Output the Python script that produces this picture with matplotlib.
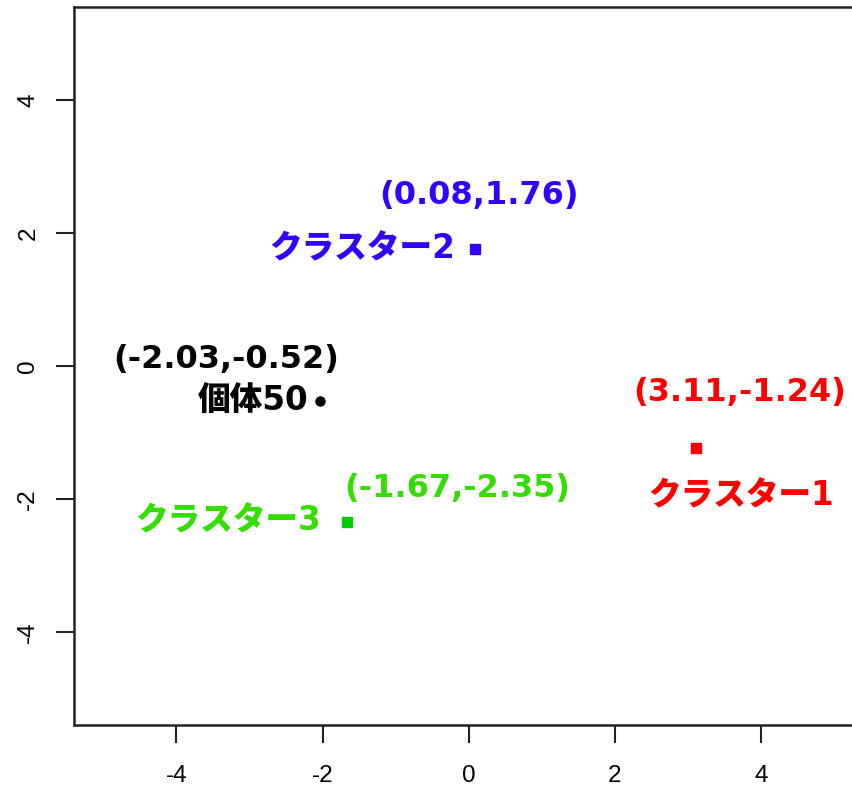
import matplotlib
matplotlib.use("Agg")
import matplotlib.pyplot as plt

# cluster centres and the individual point
names = ["クラスター1", "クラスター2", "クラスター3", "個体50"]
xs = [3.11, 0.08, -1.67, -2.03]
ys = [-1.24, 1.76, -2.35, -0.52]
text_colors = ["#FF0000", "#3300FF", "#33DD00", "#000000"]
point_colors = ["#FF0000", "#3300FF", "#00CC00", "#000000"]
markers = ["s", "s", "s", "o"]
ticks = [-4, -2, 0, 2, 4]

# label offsets in pixels: (name dx, name dy, name ha, coord dx, coord dy)
name_offsets = [(45, -48, "center"), (-19, 0, "right"), (-26, 1, "right"), (-12, -1, "right")]
coord_offsets = [(44, 56), (4, 53), (111, 34), (-94, 41)]

# DejaVu first for the wide digits, CJK font for kana/kanji
FONTS = ["DejaVu Sans", "Noto Sans CJK JP"]
PX = 0.72  # pixel -> point at dpi 100

fig = plt.figure(figsize=(8.53, 7.93), dpi=100)
W, H = 853, 793
ax = fig.add_axes([74 / W, (793 - 725) / H, (863.5 - 74) / W, (725 - 7) / H])

for i in range(len(names)):
    ax.plot(xs[i], ys[i], marker=markers[i], color=point_colors[i],
            markersize=7 if markers[i] == "s" else 6.5, linestyle="none")
    ndx, ndy, nha = name_offsets[i]
    ax.annotate(names[i], (xs[i], ys[i]), xytext=(ndx * PX, ndy * PX),
                textcoords="offset points", ha=nha, va="center",
                color=text_colors[i], fontsize=23.5, fontweight="heavy", family=FONTS)
    cdx, cdy = coord_offsets[i]
    ax.annotate(f"({xs[i]:.2f},{ys[i]:.2f})", (xs[i], ys[i]),
                xytext=(cdx * PX, cdy * PX), textcoords="offset points",
                ha="center", va="center", color=text_colors[i],
                fontsize=23, fontweight="bold", family=FONTS)

ax.set_xlim(-5.4, 5.4)
ax.set_ylim(-5.4, 5.4)
ax.set_xticks(ticks)
ax.set_yticks(ticks)
ax.set_xticklabels([str(t) for t in ticks], family="Liberation Sans", fontsize=17.5)
ax.set_yticklabels([str(t) for t in ticks], family="Liberation Sans", fontsize=17.5,
                   rotation=90, va="center")
ax.tick_params(axis="x", length=13, width=1.5, pad=16, color="#222222")
ax.tick_params(axis="y", length=13, width=1.5, pad=12, color="#222222")
for s in ax.spines.values():
    s.set_linewidth(1.8)
    s.set_color("#222222")

fig.savefig("out.png", dpi=100)
